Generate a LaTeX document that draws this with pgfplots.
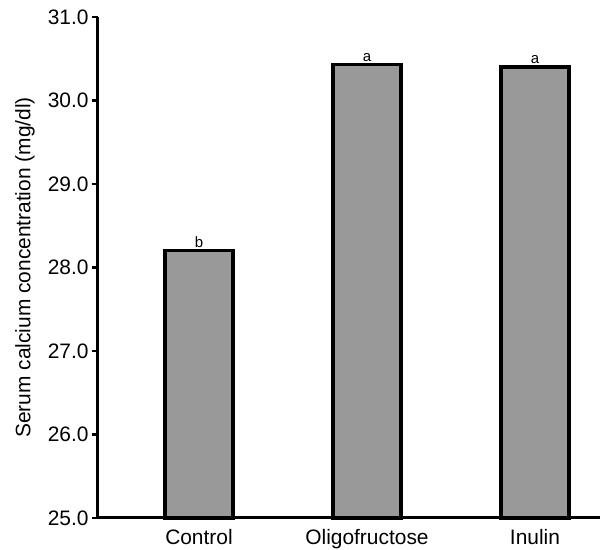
\documentclass[border=0pt]{standalone}
\usepackage{pgfplots}
\pgfplotsset{compat=1.18}
\usepackage{fontspec}
\setmainfont{Liberation Sans}
\definecolor{bargray}{RGB}{153,153,153}
\begin{document}
\begin{tikzpicture}
\begin{axis}[
  scale only axis,
  width=502bp, height=501bp,
  xmin=-0.601, xmax=2.387,
  ymin=25, ymax=31,
  axis x line*=bottom,
  axis y line*=left,
  axis line style={line width=3bp},
  xtick={0,1,2},
  xticklabels={Control,Oligofructose,Inulin},
  x tick style={draw=none},
  ytick={25,26,27,28,29,30,31},
  y tick style={line width=2.4bp, black},
  tick align=outside,
  major tick length=6bp,
  /pgf/number format/assume math mode=true,
  yticklabel style={/pgf/number format/.cd, fixed, fixed zerofill, precision=1},
  ticklabel style={font=\fontsize{21}{23}\selectfont},
  xticklabel style={yshift=-2bp},
  ylabel={Serum calcium concentration (mg/dl)},
  ylabel style={font=\fontsize{21}{23}\selectfont, at={(axis description cs:-0.1454,0.5)}, anchor=center},
  clip=false,
]
\addplot[ybar, bar width=68bp, fill=bargray, draw=black, line width=3.2bp,
  point meta=explicit symbolic,
  nodes near coords, every node near coord/.style={font=\fontsize{15}{16}\selectfont, anchor=south, inner sep=1.5bp}]
  coordinates {(0,28.20) [b] (1,30.43) [a] (2,30.40) [a]};
\end{axis}
\pgfresetboundingbox
\path ([shift={(-98bp,-32bp)}]current axis.south west) rectangle ([shift={(2bp,17bp)}]current axis.north east);
\end{tikzpicture}
\end{document}
